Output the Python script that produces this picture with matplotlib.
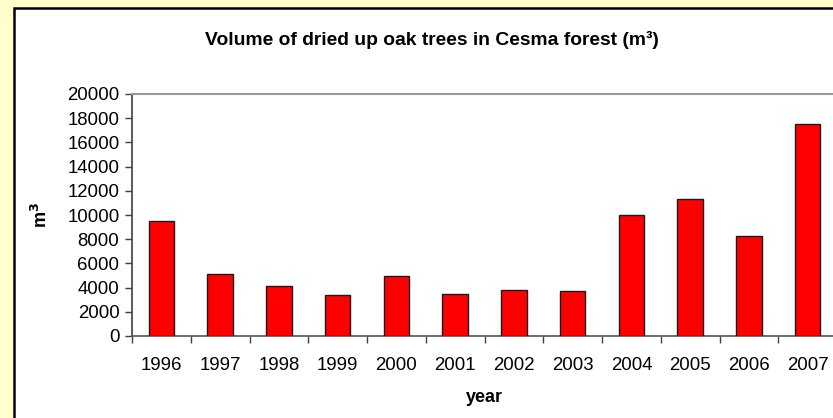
import matplotlib
matplotlib.use("Agg")
import matplotlib.pyplot as plt
from matplotlib.patches import Rectangle

years = ["1996", "1997", "1998", "1999", "2000", "2001",
         "2002", "2003", "2004", "2005", "2006", "2007"]
volume = [9500, 5100, 4100, 3400, 5000, 3450,
          3800, 3700, 10000, 11300, 8250, 17500]
y_ticks = list(range(0, 20001, 2000))

plt.rcParams["font.family"] = ["Liberation Sans", "DejaVu Sans"]

W, H = 833, 418
fig = plt.figure(figsize=(W / 100, H / 100), dpi=100, facecolor="#FFFFCC")

# white chart panel with black frame
panel = Rectangle((14 / W, -0.1), 1.2, 1 - 7.5 / H + 0.1, transform=fig.transFigure,
                  facecolor="white", edgecolor="black", linewidth=1.8, zorder=-5)
fig.patches.append(panel)

ax = fig.add_axes([132 / W, (H - 336) / H, (837 - 132) / W, 242 / H])
ax.set_zorder(2)
ax.set_facecolor("white")
x = list(range(len(years)))
ax.bar(x, volume, width=0.43, color="#FF0000", edgecolor="#1a1a1a", linewidth=1.0, zorder=3)

ax.set_xlim(-0.5, len(years) - 0.5)
ax.set_ylim(0, 20000)
ax.set_yticks(y_ticks)
ax.set_yticklabels([str(v) for v in y_ticks], fontsize=13.4)
ax.set_xticks(x)
ax.set_xticklabels(years, fontsize=13.4)
ax.set_xticks([i - 0.5 for i in range(len(years) + 1)], minor=True)
ax.tick_params(axis="x", which="major", length=0, pad=15)
ax.tick_params(axis="x", which="minor", length=5, width=1.0, color="#404040", direction="out")
ax.tick_params(axis="y", length=5, width=1.0, color="#404040", direction="out", pad=4)

ax.spines["top"].set_color("#999999")
ax.spines["top"].set_linewidth(1.5)
ax.spines["left"].set_color("#404040")
ax.spines["left"].set_linewidth(1.2)
ax.spines["bottom"].set_color("#555555")
ax.spines["bottom"].set_linewidth(1.2)
ax.spines["right"].set_visible(False)

ax.set_xlabel("year", fontsize=13, fontweight="bold", labelpad=11)
ax.set_ylabel("m$^{\\mathbf{3}}$", fontsize=13, fontweight="bold", labelpad=12)

fig.text(432 / W, 1 - 40 / H, "Volume of dried up oak trees in Cesma forest (m³)",
         ha="center", va="center", fontsize=13.9, fontweight="bold")

fig.savefig("out.png", dpi=100, facecolor=fig.get_facecolor())
